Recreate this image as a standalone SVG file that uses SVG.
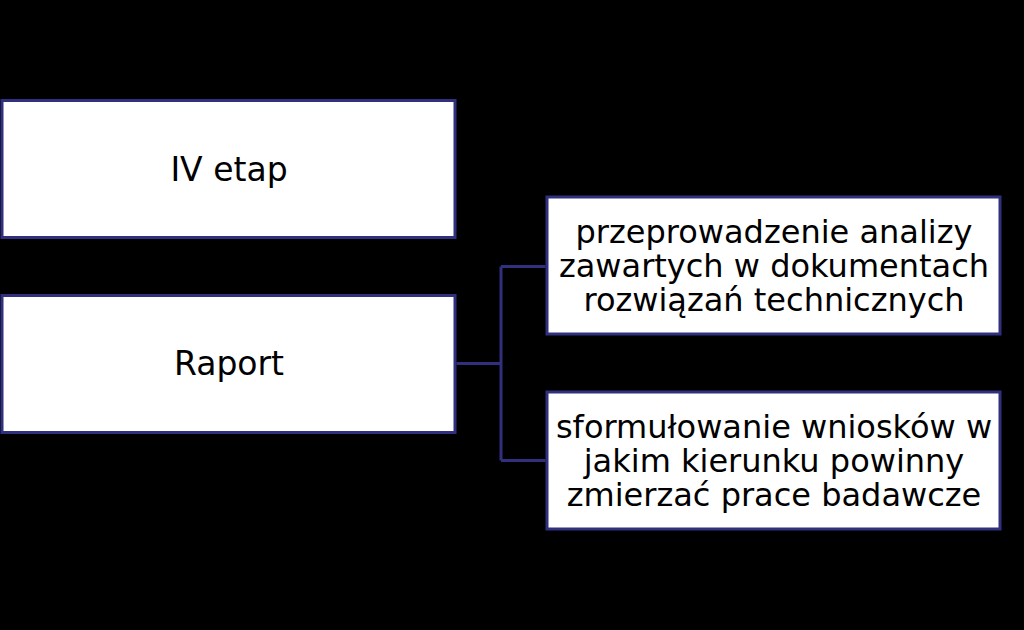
<svg xmlns="http://www.w3.org/2000/svg" width="1024" height="630" viewBox="0 0 1024 630">
<style>
.box{fill:#ffffff;stroke:#30307f;stroke-width:3}
.t{font-family:"DejaVu Sans",Verdana,sans-serif;font-size:32px;fill:#000;text-anchor:middle}
.l{font-size:33px}
.c{fill:none;stroke:#30307f;stroke-width:3}
</style>
<rect width="1024" height="630" fill="#000"/>
<g id="n1"><rect class="box" x="2" y="100.5" width="453" height="137"/><text class="t l" x="229" y="181">IV etap</text></g>
<g id="n2"><rect class="box" x="2" y="295.5" width="453" height="137"/><text class="t l" x="229" y="375">Raport</text></g>
<g id="n3"><rect class="box" x="547" y="197" width="453" height="137"/><text class="t" x="774" y="243">przeprowadzenie analizy</text><text class="t" x="774" y="277">zawartych w dokumentach</text><text class="t" x="774" y="311">rozwiązań technicznych</text></g>
<g id="n4"><rect class="box" x="547" y="392" width="453" height="137"/><text class="t" x="774" y="438">sformułowanie wniosków w</text><text class="t" x="774" y="472">jakim kierunku powinny</text><text class="t" x="774" y="506">zmierzać prace badawcze</text></g>
<g id="connectors"><path class="c" d="M456.5 363.5H501M501 266.5V460.5M501 266.5H545.5M501 460.5H545.5"/></g>
</svg>
